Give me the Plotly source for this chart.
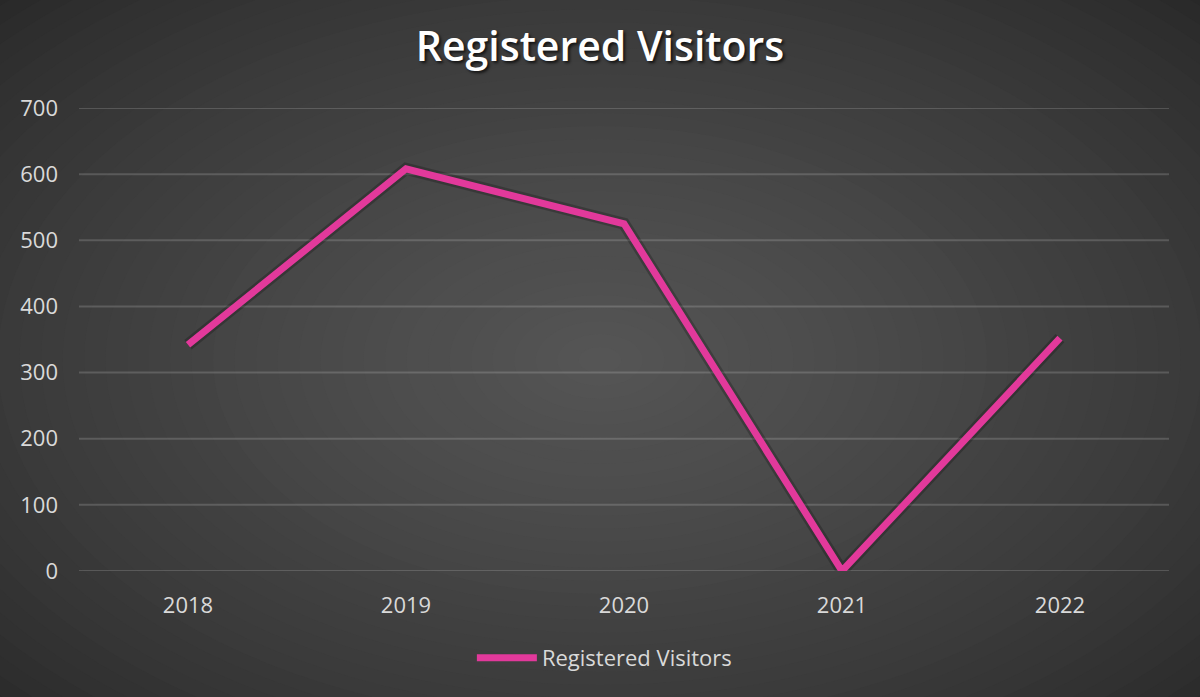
import plotly.graph_objects as go

# data
years = ["2018", "2019", "2020", "2021", "2022"]
visitors = [342, 608, 525, 0, 352]
series_name = "Registered Visitors"
y_ticks = [0, 100, 200, 300, 400, 500, 600, 700]

W, H = 1200, 697
M_L, M_R, M_T, M_B = 79, 31, 108, 126
PW, PH = W - M_L - M_R, H - M_T - M_B

PINK = "#e2399b"
TXT = "#d9d9d9"


def px_to_paper(px, py):
    return (px - M_L) / PW, (H - M_B - py) / PH


fig = go.Figure()

# radial gradient background, dark edges -> lighter centre
shapes = []
steps = 40
cx, cy = 600, 360
rx_max, ry_max = 860, 520
c_in, c_out = 86, 40
for i in range(steps):
    f = 1 - i / steps
    rx, ry = rx_max * f, ry_max * f
    v = round(c_out + (c_in - c_out) * (1 - f) ** 0.8)
    x0, y0 = px_to_paper(cx - rx, cy + ry)
    x1, y1 = px_to_paper(cx + rx, cy - ry)
    shapes.append(dict(
        type="circle", xref="paper", yref="paper",
        x0=x0, y0=y0, x1=x1, y1=y1,
        fillcolor=f"rgb({v},{v},{v})", line_width=0, layer="below"
    ))

# gridlines as shapes so the 0 and 700 lines show too
for t in y_ticks:
    shapes.append(dict(
        type="line", xref="paper", yref="y", x0=0, x1=1, y0=t, y1=t,
        line=dict(color="rgba(255,255,255,0.16)", width=2), layer="below"
    ))

# soft dark halo under the line
fig.add_trace(go.Scatter(
    x=years, y=visitors, mode="lines", showlegend=False, hoverinfo="skip",
    line=dict(color="rgba(0,0,0,0.22)", width=12)
))
fig.add_trace(go.Scatter(
    x=years, y=visitors, mode="lines", name=series_name,
    line=dict(color=PINK, width=7), cliponaxis=False
))

fig.update_layout(
    width=W, height=H,
    margin=dict(l=M_L, r=M_R, t=M_T, b=M_B),
    paper_bgcolor="rgb(40,40,40)",
    plot_bgcolor="rgba(0,0,0,0)",
    shapes=shapes,
    font=dict(family="Open Sans", color=TXT, size=22),
    title=dict(
        text=series_name, x=0.5, xanchor="center", y=1 - 47 / H, yanchor="middle",
        font=dict(family="Open Sans", size=41, color="#ffffff", weight=600,
                  shadow="2px 2px 3px rgba(0,0,0,0.7)")
    ),
    showlegend=True,
    legend=dict(
        orientation="h", x=0.482, xanchor="center", y=(H - M_B - 658) / PH, yanchor="middle",
        font=dict(size=22, color=TXT), bgcolor="rgba(0,0,0,0)", itemwidth=60
    ),
    xaxis=dict(
        type="category", showgrid=False, zeroline=False, showline=False,
        tickfont=dict(size=22, color=TXT), ticklabelstandoff=19,
        range=[-0.5, len(years) - 0.5]
    ),
    yaxis=dict(
        range=[0, 700], tickvals=y_ticks, showgrid=False,
        zeroline=False, showline=False,
        tickfont=dict(size=22, color=TXT), ticklabelstandoff=20
    ),
)

fig.write_html("out.html", config={"displayModeBar": False},
               post_script="document.body.style.margin='0';")
